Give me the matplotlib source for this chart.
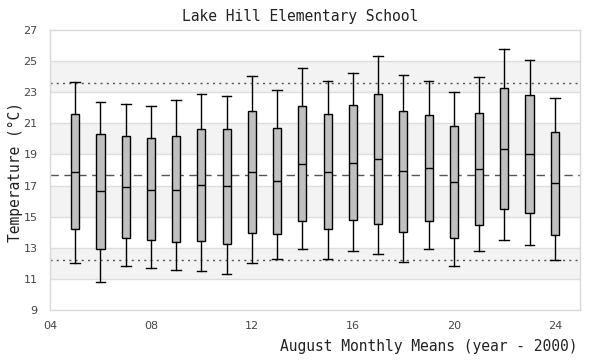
import numpy as np
import matplotlib
matplotlib.use("Agg")
import matplotlib.pyplot as plt

# August monthly means, years 2005..2024 (year - 2000)
years = list(range(5, 25))
whis_lo = [12.00, 10.78, 11.81, 11.68, 11.55, 11.51, 11.29, 12.00, 12.26, 12.90,
           12.26, 12.77, 12.58, 12.06, 12.90, 11.81, 12.77, 13.48, 13.16, 12.21]
q1 = [14.19, 12.90, 13.61, 13.48, 13.35, 13.41, 13.22, 13.93, 13.86, 14.70,
      14.19, 14.76, 14.51, 13.99, 14.70, 13.61, 14.44, 15.47, 15.21, 13.80]
med = [17.85, 16.63, 16.89, 16.74, 16.74, 17.01, 16.95, 17.85, 17.27, 18.36,
       17.85, 18.43, 18.69, 17.91, 18.11, 17.21, 18.04, 19.33, 19.01, 17.14]
q3 = [21.58, 20.29, 20.16, 20.04, 20.16, 20.61, 20.61, 21.77, 20.68, 22.09,
      21.58, 22.16, 22.86, 21.77, 21.51, 20.81, 21.64, 23.25, 22.80, 20.42]
whis_hi = [23.68, 22.35, 22.26, 22.14, 22.48, 22.89, 22.78, 24.06, 23.16, 24.58,
           23.74, 24.26, 25.31, 24.09, 23.70, 22.99, 23.96, 25.76, 25.05, 22.61]

# reference lines
upper_ref = 23.61
mean_ref = 17.66
lower_ref = 12.21

xtick_vals = [4, 8, 12, 16, 20, 24]
ytick_vals = list(range(9, 28, 2))
bands = [(11, 13), (15, 17), (19, 21), (23, 25)]

stats = []
for i in range(len(years)):
    stats.append(dict(whislo=whis_lo[i], q1=q1[i], med=med[i], q3=q3[i],
                      whishi=whis_hi[i], fliers=[]))

fig = plt.figure(figsize=(6, 3.6), dpi=100)
ax = fig.add_axes([50/600, 50/360, 530/600, 280/360])

for lo, hi in bands:
    ax.axhspan(lo, hi, color='#f3f3f3', zorder=0, lw=0)
for y in range(11, 26, 2):
    ax.axhline(y, color='#dedede', lw=1, zorder=1)

ax.axhline(upper_ref, color='#555555', lw=1, ls=(0, (1.5, 3)), zorder=2)
ax.axhline(lower_ref, color='#555555', lw=1, ls=(0, (1.5, 3)), zorder=2)
ax.axhline(mean_ref, color='#555555', lw=1, ls=(0, (6, 4)), zorder=2)

ax.bxp(stats, positions=years, widths=0.32, capwidths=0.38, patch_artist=True,
       showfliers=False,
       boxprops=dict(facecolor='#c0c0c0', edgecolor='black', lw=1.0),
       medianprops=dict(color='black', lw=1.0),
       whiskerprops=dict(color='black', lw=1.0),
       capprops=dict(color='black', lw=1.0),
       zorder=3)

ax.set_xlim(4, 25)
ax.set_ylim(9, 27)
ax.set_xticks(xtick_vals)
ax.set_xticklabels(['%02d' % v for v in xtick_vals])
ax.set_yticks(ytick_vals)
ax.tick_params(length=0, labelsize=8, labelcolor='#444444')
ax.tick_params(axis='y', pad=9)
ax.tick_params(axis='x', pad=8)
for s in ax.spines.values():
    s.set_color('#d9d9d9')
    s.set_linewidth(1)

mono = 'DejaVu Sans Mono'
fig.text(0.5, 1 - 16/360, 'Lake Hill Elementary School', family=mono,
         fontsize=10.5, ha='center', va='center', color='#222222')
fig.text(578/600, 1 - 347/360, 'August Monthly Means (year - 2000)', family=mono,
         fontsize=10.5, ha='right', va='center', color='#222222')
fig.text(15/600, 1 - 172/360, 'Temperature (\u00b0C)', family=mono,
         fontsize=10.5, rotation=90, ha='center', va='center', color='#222222')

fig.savefig('out.png', dpi=100)
